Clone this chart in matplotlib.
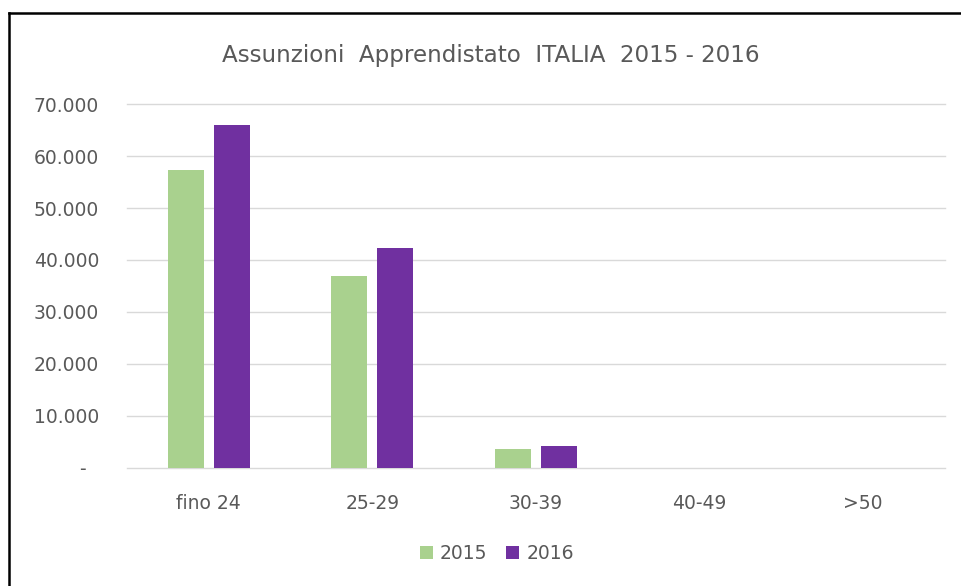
import matplotlib
matplotlib.use('Agg')
from matplotlib import pyplot as plt
from matplotlib.lines import Line2D
from matplotlib.ticker import FuncFormatter
import numpy as np

categories = ['fino 24', '25-29', '30-39', '40-49', '>50']
years = ['2015', '2016']
values_2015 = [57300, 36900, 3650, 0, 0]
values_2016 = [66000, 42300, 4300, 0, 0]

green = '#a9d18e'
purple = '#7030a0'
text_col = '#595959'

plt.rcParams['font.family'] = ['DejaVu Sans']

fig = plt.figure(figsize=(9.61, 5.86), dpi=100)
ax = fig.add_axes([0.132, 0.2014, 0.851, 0.6211])

x = np.arange(len(categories))
w = 0.22
ax.bar(x - 0.14, values_2015, w, color=green, label=years[0], zorder=2)
ax.bar(x + 0.14, values_2016, w, color=purple, label=years[1], zorder=2)

ax.set_xlim(-0.5, len(categories) - 0.5)
ax.set_ylim(0, 70000)
ax.set_yticks(np.arange(0, 70001, 10000))

def fmt(v, pos):
    if v == 0:
        return '-  '
    return '{:,.0f}'.format(v).replace(',', '.')

ax.yaxis.set_major_formatter(FuncFormatter(fmt))
ax.set_xticks(x)
ax.set_xticklabels(categories)
ax.grid(axis='y', color='#d9d9d9', linewidth=1, zorder=0)
for gl in ax.get_ygridlines():
    gl.set_clip_on(False)
for s in ax.spines.values():
    s.set_visible(False)
ax.tick_params(length=0, labelsize=13.5, labelcolor=text_col)
ax.tick_params(axis='y', pad=20)
ax.tick_params(axis='x', pad=19)

fig.text(0.511, 0.906, 'Assunzioni  Apprendistato  ITALIA  2015 - 2016',
         ha='center', va='center', fontsize=16.6, color=text_col)

leg = fig.legend(loc='center', bbox_to_anchor=(0.517, 0.056), ncol=2, frameon=False,
                 fontsize=13.5, labelcolor=text_col, handlelength=0.7, handleheight=0.7,
                 handletextpad=0.37, columnspacing=1.0)

# outer frame (only left and top visible in the crop)
fig.add_artist(Line2D([0.0094, 0.0094], [0, 0.978], transform=fig.transFigure, color='black', linewidth=1.8))
fig.add_artist(Line2D([0.0094, 1.0], [0.978, 0.978], transform=fig.transFigure, color='black', linewidth=1.8))

fig.savefig('out.png', dpi=100)
